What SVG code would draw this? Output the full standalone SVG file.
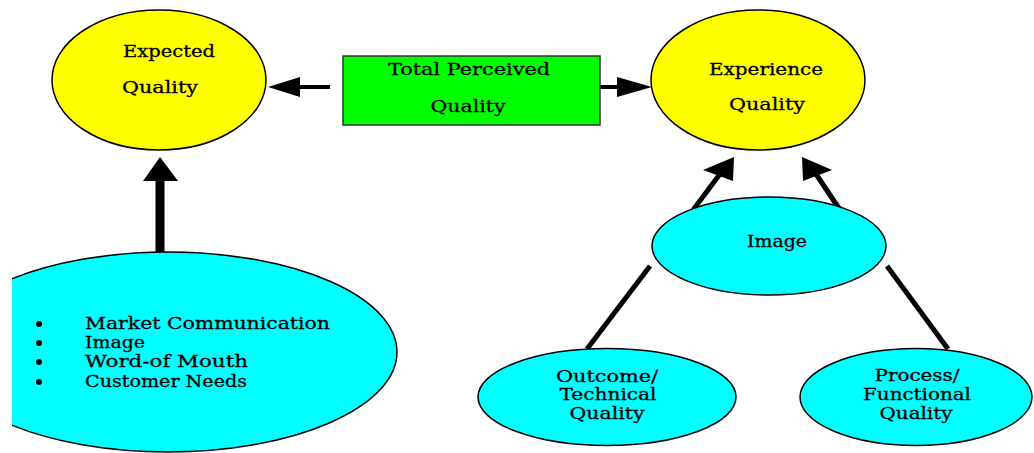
<svg xmlns="http://www.w3.org/2000/svg" width="1034" height="453" viewBox="0 0 1034 453">
  <defs>
    <style>
      .t { font-family: "DejaVu Serif", "Liberation Serif", serif; font-size: 17px; fill: #000; stroke: #000; stroke-width: 0.3; }
      .m { text-anchor: middle; }
      .yel { fill: #ffff00; stroke: #000; stroke-width: 1.5; }
      .cyan { fill: #00ffff; stroke: #000; stroke-width: 1.5; }
      .box { fill: #00ff00; stroke: #333; stroke-width: 1.5; }
      .ln { stroke: #000; fill: none; stroke-linecap: butt; }
      .head { fill: #000; }
    </style>
    <clipPath id="leftClip">
      <rect x="12" y="0" width="1022" height="453"/>
    </clipPath>
    <clipPath id="expClip">
      <ellipse cx="758" cy="80" rx="107" ry="70"/>
    </clipPath>
  </defs>

  <rect width="1034" height="453" fill="#fff"/>

  <!-- connectors -->
  <g id="connectors">
    <!-- Total Perceived -> Expected -->
    <line class="ln" x1="330" y1="87" x2="298" y2="87" stroke-width="4"/>
    <polygon class="head" points="268,87 300,77 300,97"/>
    <!-- Total Perceived -> Experience -->
    <line class="ln" x1="585" y1="87" x2="619" y2="87" stroke-width="4"/>
    <polygon class="head" points="652,87 617,77 617,97"/>
    <!-- sources -> Expected -->
    <line class="ln" x1="160" y1="252" x2="160" y2="179" stroke-width="9"/>
    <polygon class="head" points="160,157 143,181 178,181"/>
    <!-- Image -> Experience -->
    <line class="ln" x1="693" y1="210" x2="720" y2="174" stroke-width="5"/>
    <polygon class="head" points="703,170 734,157 733,181"/>
    <line class="ln" x1="840" y1="210" x2="816" y2="174" stroke-width="5"/>
    <polygon class="head" points="802,157 832,170 803,181"/>
    <!-- Outcome / Process -> Image -->
    <line class="ln" x1="650" y1="266" x2="587" y2="349" stroke-width="5"/>
    <line class="ln" x1="887" y1="266" x2="948" y2="349" stroke-width="5"/>
  </g>

  <g id="expected">
    <ellipse class="yel" cx="159" cy="80" rx="107" ry="70"/>
    <text class="t m" x="169" y="57" textLength="92" lengthAdjust="spacingAndGlyphs">Expected</text>
    <text class="t m" x="160" y="93" textLength="76" lengthAdjust="spacingAndGlyphs">Quality</text>
  </g>

  <g id="total">
    <rect class="box" x="343" y="56" width="257" height="69"/>
    <text class="t m" x="469" y="75" textLength="162" lengthAdjust="spacingAndGlyphs">Total Perceived</text>
    <text class="t m" x="468" y="112" textLength="75" lengthAdjust="spacingAndGlyphs">Quality</text>
  </g>

  <g id="experience">
    <ellipse cx="758" cy="80" rx="107" ry="70" fill="#ffff00"/>
    <rect x="847" y="117" width="30" height="40" fill="#fff" clip-path="url(#expClip)"/>
    <ellipse cx="758" cy="80" rx="107" ry="70" fill="none" stroke="#000" stroke-width="1.5"/>
    <text class="t m" x="766" y="75" textLength="114" lengthAdjust="spacingAndGlyphs">Experience</text>
    <text class="t m" x="767" y="110" textLength="76" lengthAdjust="spacingAndGlyphs">Quality</text>
  </g>

  <g id="image">
    <ellipse class="cyan" cx="769" cy="246" rx="117" ry="49"/>
    <text class="t m" x="777" y="247" textLength="60" lengthAdjust="spacingAndGlyphs">Image</text>
  </g>

  <g id="outcome">
    <ellipse class="cyan" cx="607" cy="397" rx="129" ry="48.5"/>
    <text class="t m" x="607" y="382" textLength="102" lengthAdjust="spacingAndGlyphs">Outcome/</text>
    <text class="t m" x="608" y="400" textLength="97" lengthAdjust="spacingAndGlyphs">Technical</text>
    <text class="t m" x="607" y="419" textLength="75" lengthAdjust="spacingAndGlyphs">Quality</text>
  </g>

  <g id="process">
    <ellipse class="cyan" cx="916" cy="397" rx="116" ry="48.5"/>
    <text class="t m" x="917" y="381" textLength="85" lengthAdjust="spacingAndGlyphs">Process/</text>
    <text class="t m" x="917" y="400" textLength="108" lengthAdjust="spacingAndGlyphs">Functional</text>
    <text class="t m" x="916" y="419" textLength="73" lengthAdjust="spacingAndGlyphs">Quality</text>
  </g>

  <g id="sources">
    <g clip-path="url(#leftClip)">
      <ellipse class="cyan" cx="168" cy="352" rx="229" ry="100"/>
    </g>
    <circle cx="39" cy="324" r="3"/>
    <circle cx="39" cy="343" r="3"/>
    <circle cx="39" cy="362" r="3"/>
    <circle cx="39" cy="382" r="3"/>
    <text class="t" x="85" y="329" textLength="245" lengthAdjust="spacingAndGlyphs">Market Communication</text>
    <text class="t" x="85" y="348" textLength="60" lengthAdjust="spacingAndGlyphs">Image</text>
    <text class="t" x="85" y="367" textLength="163" lengthAdjust="spacingAndGlyphs">Word-of Mouth</text>
    <text class="t" x="85" y="387" textLength="162" lengthAdjust="spacingAndGlyphs">Customer Needs</text>
  </g>
</svg>
